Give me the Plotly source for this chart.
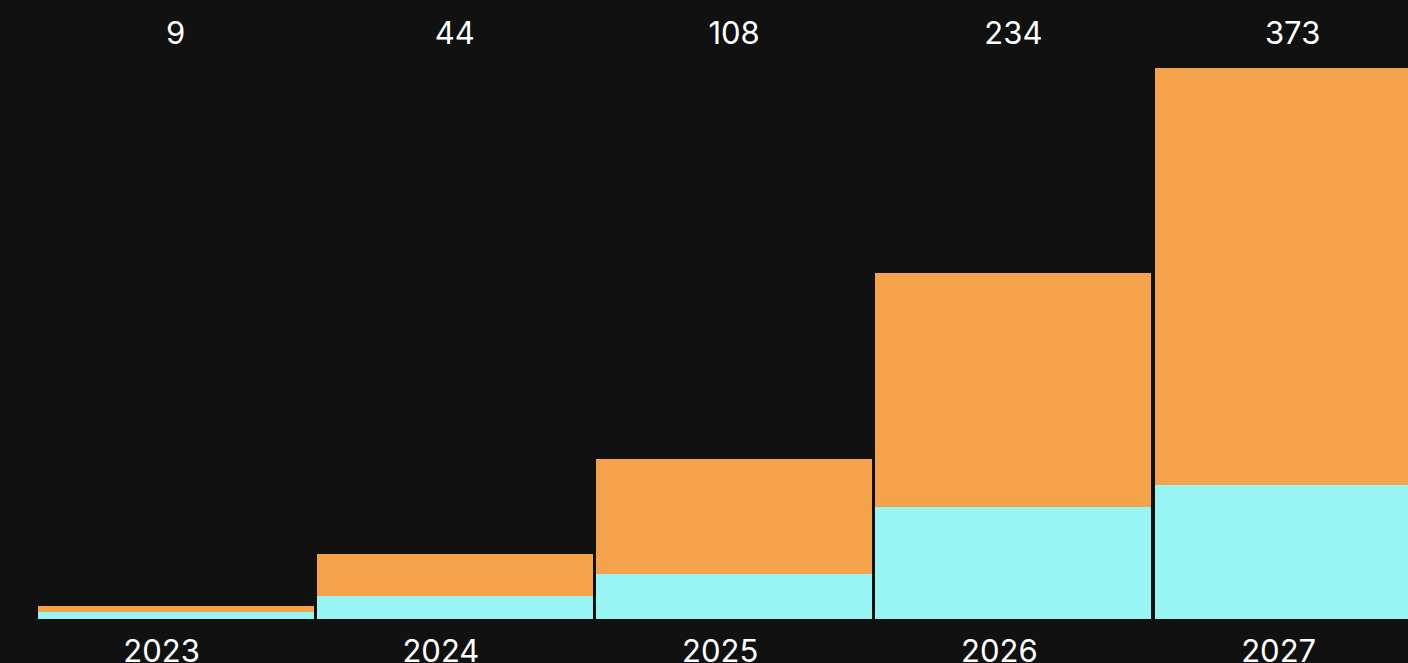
import plotly.graph_objects as go

# Yearly totals shown above each column, and the lower (cyan) share of each bar
years = ["2023", "2024", "2025", "2026", "2027"]
totals = [9, 44, 108, 234, 373]
base_part = [4.7, 15.6, 30.5, 75.8, 90.7]
top_part = [round(t - b, 1) for t, b in zip(totals, base_part)]

BG = "#111111"
CYAN = "#98F5F3"
ORANGE = "#F5A34A"
FONT = "Inter"

W, H = 1408, 663
left, bottom = 36, 44
plot_h = H - bottom
pitch = 279.25
px_per_unit = 551 / 373
x_end = -0.5 + (W - left) / pitch
y_top = plot_h / px_per_unit
header_y = y_top - 36 / px_per_unit   # header row sits 36px below the top edge

fig = go.Figure()
fig.add_trace(go.Bar(x=years, y=base_part, marker=dict(color=CYAN, line=dict(width=0)),
                     hoverinfo="skip"))
fig.add_trace(go.Bar(x=years, y=top_part, marker=dict(color=ORANGE, line=dict(width=0)),
                     hoverinfo="skip"))

# Column headers with the yearly totals
fig.add_trace(go.Scatter(x=years, y=[header_y] * len(years), mode="text",
                         text=[str(t) for t in totals], textposition="middle center",
                         textfont=dict(family=FONT, size=31, color="white"),
                         cliponaxis=False, hoverinfo="skip"))

fig.update_layout(
    width=W, height=H,
    barmode="stack", bargap=0.011,
    paper_bgcolor=BG, plot_bgcolor=BG,
    showlegend=False,
    margin=dict(l=left, r=0, t=0, b=bottom, pad=0),
    xaxis=dict(range=[-0.5, x_end], showgrid=False, zeroline=False, showline=False,
               automargin=False,
               ticks="", ticklabelshift=-14, ticklabelstandoff=11,
               tickfont=dict(family=FONT, size=31, color="white")),
    yaxis=dict(range=[0, y_top], visible=False, automargin=False),
)

fig.write_html("out.html")
